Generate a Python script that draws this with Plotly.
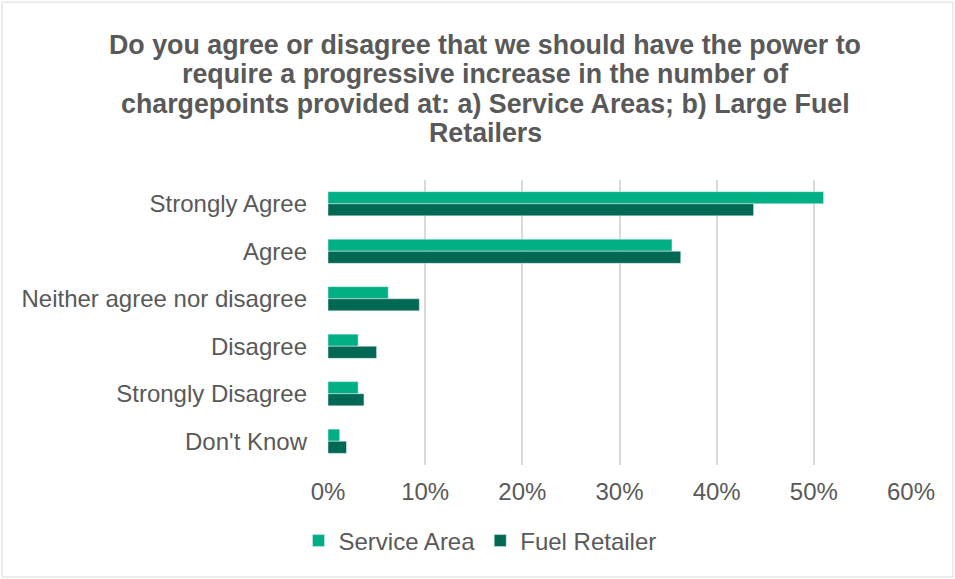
import plotly.graph_objects as go

categories = ["Strongly Agree", "Agree", "Neither agree nor disagree",
              "Disagree", "Strongly Disagree", "Don't Know"]
service_area = [0.510, 0.354, 0.062, 0.031, 0.031, 0.012]
fuel_retailer = [0.438, 0.363, 0.094, 0.050, 0.037, 0.019]
x_ticks = [0, 0.1, 0.2, 0.3, 0.4, 0.5, 0.6]

title_lines = [
    "Do you agree or disagree that we should have the power to",
    "require a progressive increase in the number of",
    "chargepoints provided at: a) Service Areas; b) Large Fuel",
    "Retailers",
]

text_color = "#595959"
font_family = "Liberation Sans, Arial, sans-serif"

W, H = 955, 579
L, R, T, B = 328, 44, 180, 114
PW, PH = W - L - R, H - T - B

fig = go.Figure()
fig.add_trace(go.Bar(name="Service Area", y=categories, x=service_area,
                     orientation="h", marker=dict(color="#00B084")))
fig.add_trace(go.Bar(name="Fuel Retailer", y=categories, x=fuel_retailer,
                     orientation="h", marker=dict(color="#006853")))

fig.update_layout(
    width=W, height=H,
    margin=dict(l=L, r=R, t=T, b=B),
    paper_bgcolor="white", plot_bgcolor="white",
    barmode="group", bargap=0.49, bargroupgap=0,
    font=dict(family=font_family, color=text_color, size=24),
    showlegend=True,
    legend=dict(orientation="h", x=480 / W, xref="container", xanchor="center",
                y=1 - 541 / H, yref="container", yanchor="middle",
                font=dict(size=24, color=text_color),
                traceorder="normal"),
    xaxis=dict(range=[0, 0.6], tickvals=x_ticks, tickformat=".0%",
               showgrid=True, gridcolor="#D9D9D9", gridwidth=2,
               zeroline=False, showline=False, ticks="",
               ticklabelstandoff=10,
               tickfont=dict(size=24, color=text_color)),
    yaxis=dict(autorange="reversed", showgrid=False, zeroline=False,
               showline=False, ticks="", ticklabelstandoff=20,
               tickfont=dict(size=24, color=text_color)),
)

# Title, one annotation per line so the line spacing stays tight
for i, line in enumerate(title_lines):
    y_px = 45 + 29.5 * i
    fig.add_annotation(text="<b>" + line + "</b>", xref="paper", yref="paper",
                       x=(485 - L) / PW, y=(H - B - y_px) / PH,
                       xanchor="center", yanchor="middle",
                       showarrow=False, align="center",
                       font=dict(size=26.8, color=text_color, family=font_family))

# Light frame around the whole chart
fig.add_shape(type="rect", xref="paper", yref="paper",
              x0=-(L - 2) / PW, x1=(W - L - 2) / PW,
              y0=-(B - 2) / PH, y1=(H - B - 2) / PH,
              line=dict(color="#D9D9D9", width=1), layer="below")

fig.write_html("out.html")
